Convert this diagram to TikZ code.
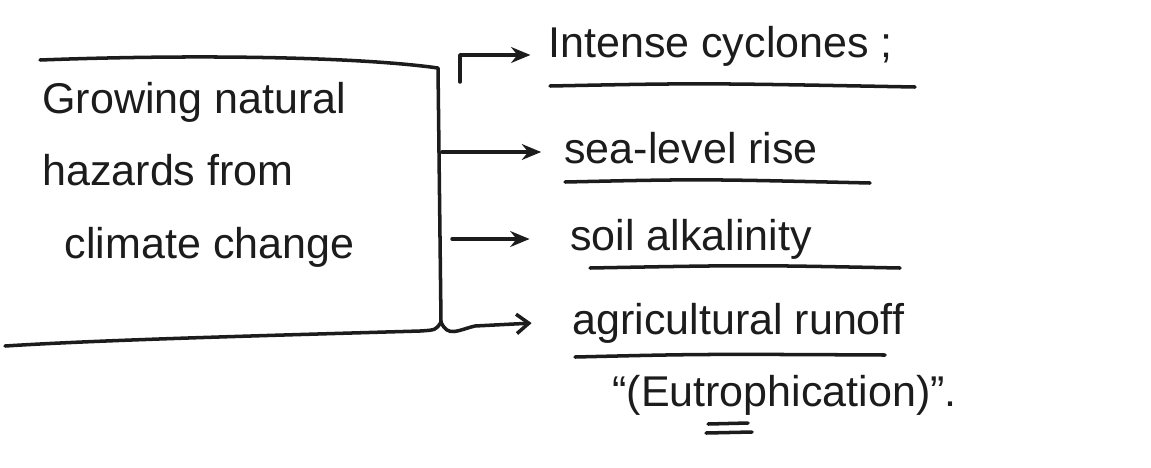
\documentclass[tikz,border=0pt]{standalone}
\usepackage{fontspec}
\setmainfont{Liberation Sans}
\usetikzlibrary{arrows.meta}
\definecolor{ink}{HTML}{1C1C1C}
\tikzset{
  pen/.style={draw=ink, line width=2pt, line cap=round, line join=round},
  arr/.style={pen, -{Stealth[length=11pt,width=9pt]}},
  openarr/.style={pen, -{Straight Barb[length=7pt,width=11pt]}},
  hand/.style={text=ink, inner sep=0pt, font=\fontsize{24.5}{41}\selectfont},
  item/.style={hand, anchor=base west},
}
\begin{document}
\begin{tikzpicture}[x=0.02cm, y=-0.02cm]
\useasboundingbox (0,0) rectangle (1151,467);

% the open box: top, right side, bottom
\draw[pen] (40,60) .. controls (200,54) and (360,57) .. (438,68) -- (441,322)
  .. controls (436,330) .. (420,331) .. controls (250,336) and (100,340) .. (5,346);

% text inside the box (anchored on the baseline of its last line)
\node[hand, anchor=base west, align=left] (hazards) at (42,258)
  {Growing natural\\hazards from\\\hspace*{0.45cm}climate change};

% the four consequences
\node[item] (cyc) at (548,57) {Intense cyclones ;};
\node[item] (sea) at (564,163) {sea-level rise};
\node[item] (soil) at (570,250) {soil alkalinity};
\node[item] (agri) at (572,334) {agricultural runoff};
\node[item] (eut) at (612,406) {\textquotedblleft(Eutrophication)\textquotedblright.};

% branch points on the right side of the box
\coordinate (b1) at (460,82);
\coordinate (b1t) at (460,55);
\coordinate (b2) at (442,152);
\coordinate (b3) at (452,239);
\coordinate (b4) at (441,322);

% arrows
\draw[arr, shorten >=10pt] (b1) -- (b1t) -- (b1t -| cyc.west);
\draw[arr, shorten >=13pt] (b2) -- (b2 -| sea.west);
\draw[arr, shorten >=23pt] (b3) -- (b3 -| soil.west);
\draw[openarr, shorten >=23pt] (b4) .. controls (448,338) and (458,330) .. (475,326) -- (agri.west |- 0,321);

% underlines
\draw[pen] (550,86) .. controls (700,83) .. (915,87);
\draw[pen] (565,182) .. controls (700,179) .. (870,183);
\draw[pen] (590,268) .. controls (750,265) .. (900,268);
\draw[pen] (575,357) .. controls (700,354) .. (885,355);
\draw[pen] (708,424) -- (748,423);
\draw[pen] (706,433) -- (752,432);
\end{tikzpicture}
\end{document}
